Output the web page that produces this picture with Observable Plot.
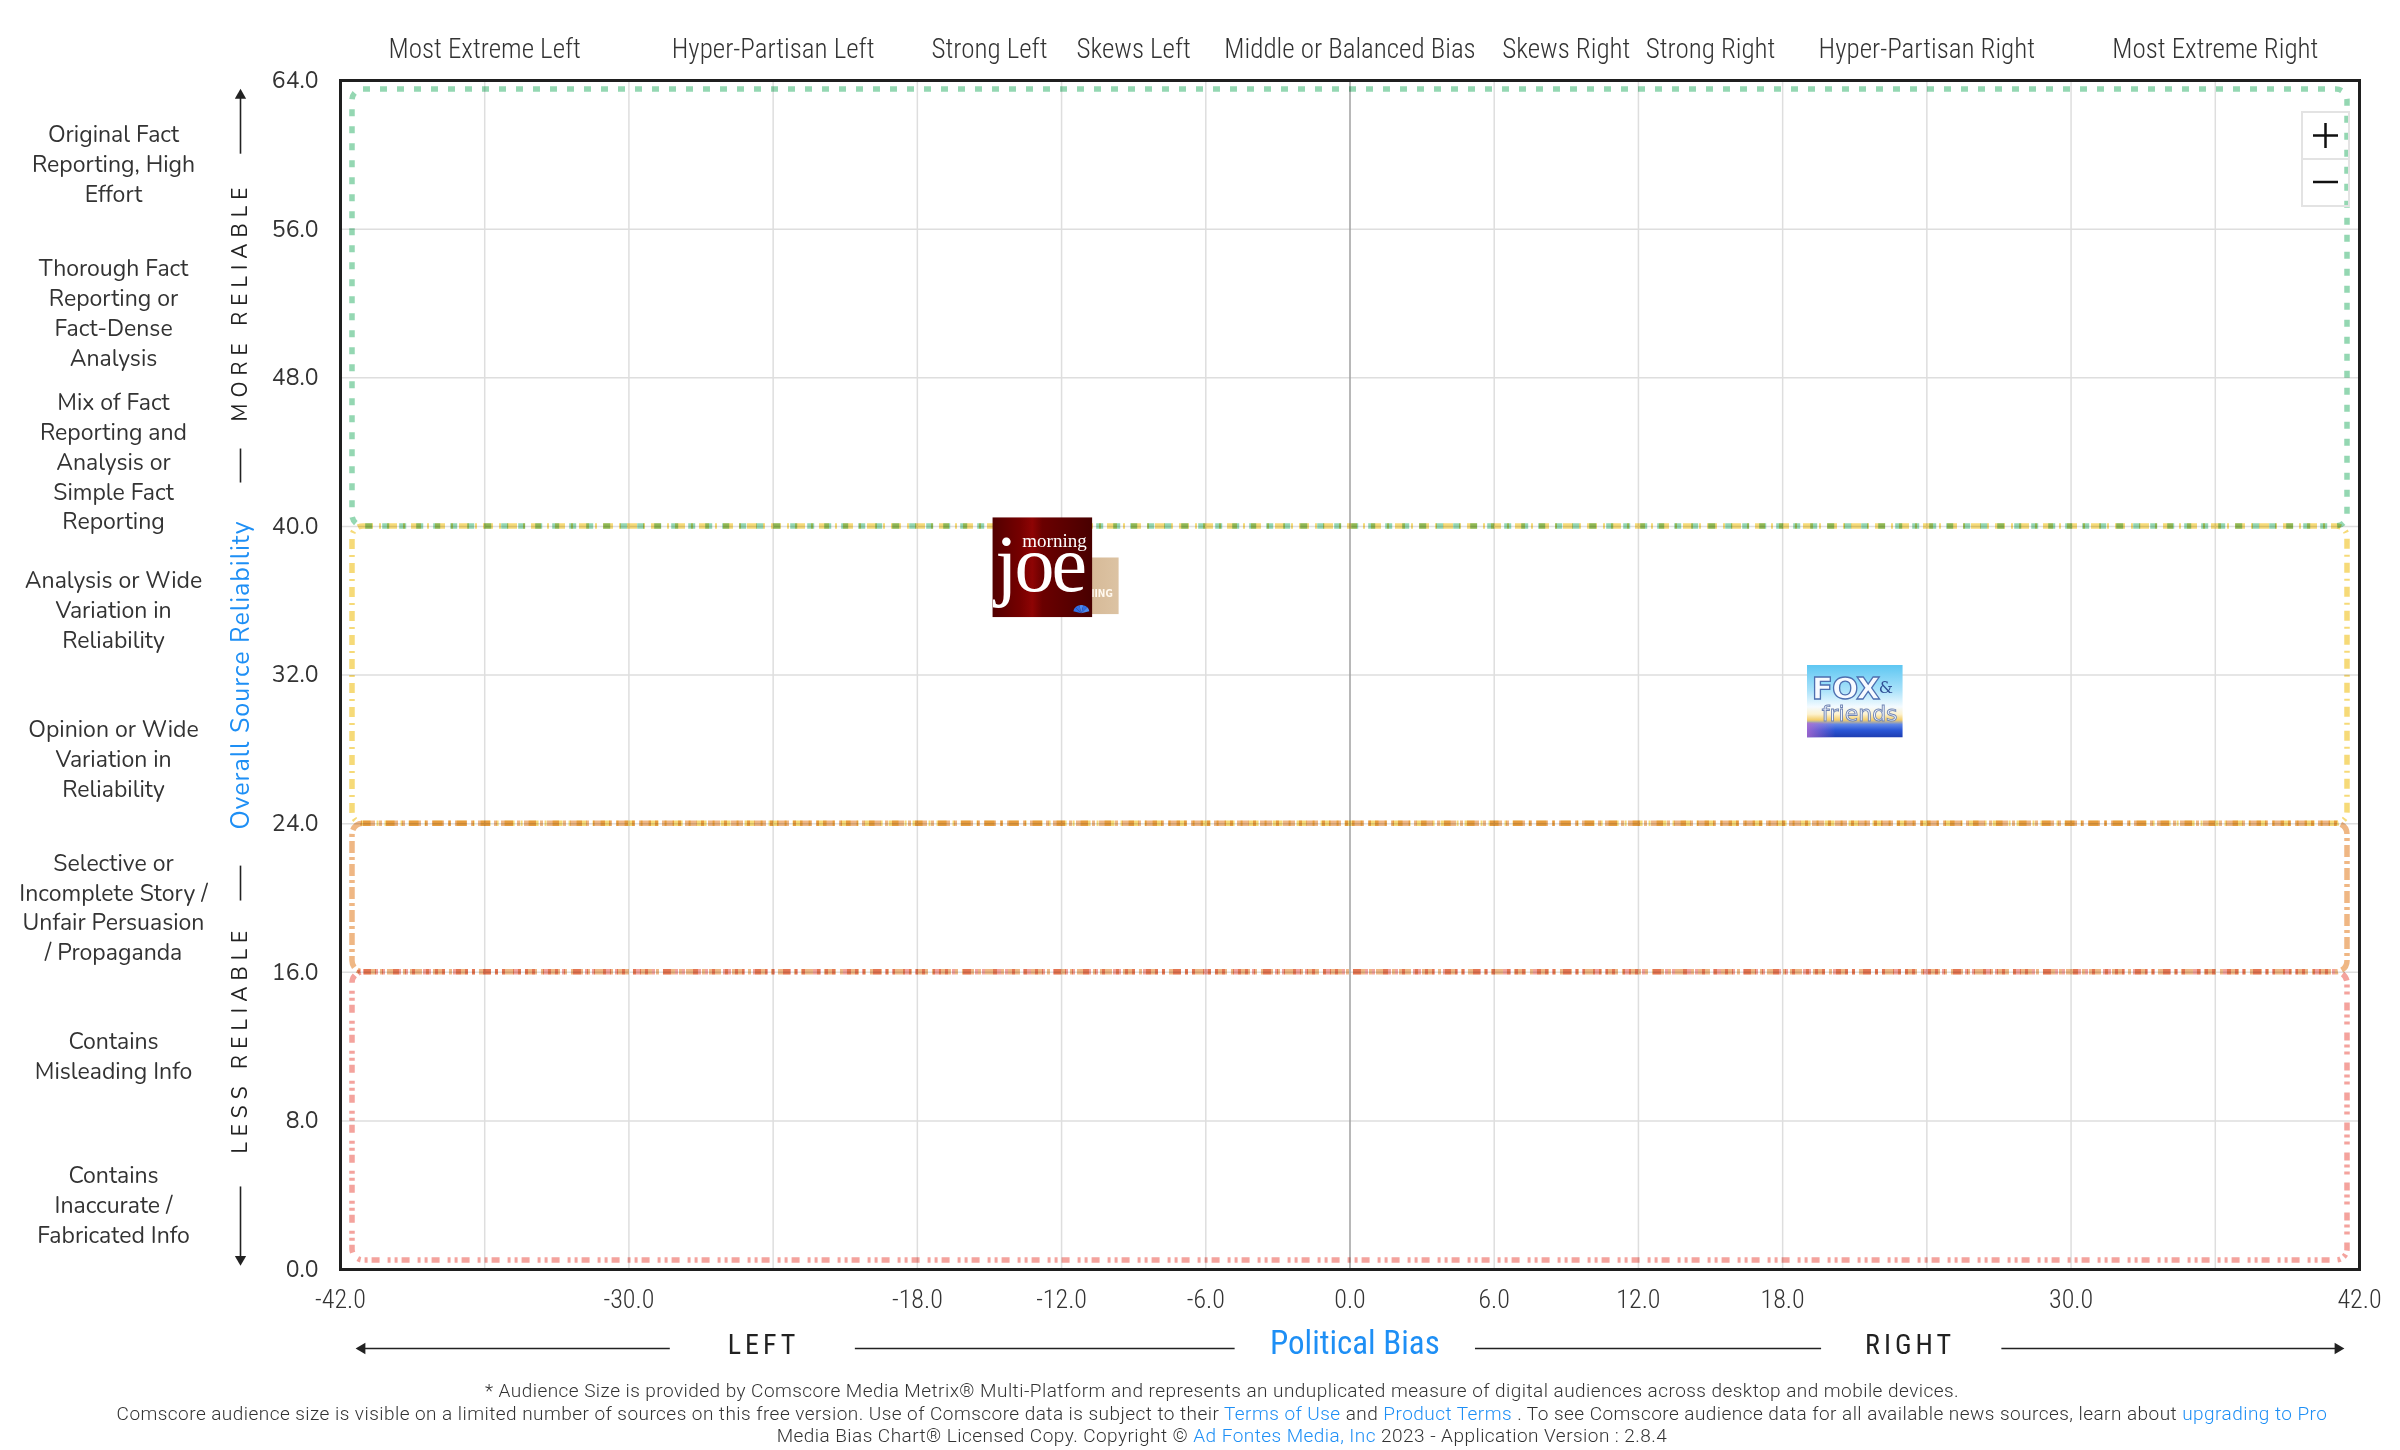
<!DOCTYPE html>
<html>
<head>
<meta charset="utf-8">
<script src="https://cdn.jsdelivr.net/npm/d3@7"></script>
<script src="https://cdn.jsdelivr.net/npm/@observablehq/plot@0.6"></script>
<style>
  html, body { margin: 0; padding: 0; background: #fff; }
  body { width: 2400px; height: 1450px; overflow: hidden; position: relative; }
  #chart { position: absolute; left: 0; top: 0; }
  #chart g[aria-label^="x-axis"] text {
    font-family: "Roboto Condensed", "Liberation Sans Narrow", "DejaVu Sans Condensed", sans-serif;
    font-size: 26px; font-weight: 300; fill: #333;
  }
  #chart g[aria-label^="y-axis"] text {
    font-family: "Nunito", "Lato", sans-serif; font-size: 23px; fill: #333;
  }
  .footer {
    position: absolute; left: 0; top: 1380px; width: 2400px; padding-left: 44px; box-sizing: border-box;
    text-align: center; color: #333;
    font-family: "Roboto", "Roboto Condensed", sans-serif;
    font-size: 19px; font-weight: 300; letter-spacing: 0.45px; line-height: 22.5px;
  }
  .footer .lk { color: #1e8ff5; }
  .zc { position: absolute; left: 2301px; width: 49px; height: 49px; border: 2px solid #e3e3e3; box-sizing: border-box; }
</style>
</head>
<body>
<div id="chart"></div>
<div class="zc" style="top:111px"><svg width="45" height="45"><path d="M10 22.5H35M22.5 10V35" stroke="#111" stroke-width="2.5"/></svg></div>
<div class="zc" style="top:158px;border-top:none"><svg width="45" height="45"><path d="M10 24H35" stroke="#111" stroke-width="2.5"/></svg></div>
<div class="footer">
  <div>* Audience Size is provided by Comscore Media Metrix® Multi-Platform and represents an unduplicated measure of digital audiences across desktop and mobile devices.</div>
  <div>Comscore audience size is visible on a limited number of sources on this free version. Use of Comscore data is subject to their <span class="lk">Terms of Use</span> and <span class="lk">Product Terms</span> . To see Comscore audience data for all available news sources, learn about <span class="lk">upgrading to Pro</span></div>
  <div>Media Bias Chart® Licensed Copy. Copyright © <span class="lk">Ad Fontes Media, Inc</span> 2023 - Application Version : 2.8.4</div>
</div>
<script>
// ---------------- data ----------------
const biasCategories = ["Most Extreme Left", "Hyper-Partisan Left", "Strong Left", "Skews Left",
  "Middle or Balanced Bias", "Skews Right", "Strong Right", "Hyper-Partisan Right", "Most Extreme Right"];
const biasCategoryCenters = [-36, -24, -15, -9, 0, 9, 15, 24, 36];

const reliabilityCategories = [
  "Original Fact\nReporting, High\nEffort",
  "Thorough Fact\nReporting or\nFact-Dense\nAnalysis",
  "Mix of Fact\nReporting and\nAnalysis or\nSimple Fact\nReporting",
  "Analysis or Wide\nVariation in\nReliability",
  "Opinion or Wide\nVariation in\nReliability",
  "Selective or\nIncomplete Story /\nUnfair Persuasion\n/ Propaganda",
  "Contains\nMisleading Info",
  "Contains\nInaccurate /\nFabricated Info"
];
const reliabilityCategoryCenters = [60, 52, 44, 36, 28, 20, 12, 4];

const xTickValues = [-42, -30, -18, -12, -6, 0, 6, 12, 18, 30, 42];
const yTickValues = [0, 8, 16, 24, 32, 40, 48, 56, 64];
const xGridValues = [-36, -30, -24, -18, -12, -6, 6, 12, 18, 24, 30, 36];
const yGridValues = [8, 16, 24, 32, 40, 48, 56];

const zoneTops = [64, 40, 24, 16];
const zoneBottoms = [40, 24, 16, 0];

const sourceNames = ["Morning show (logo partly hidden)", "Morning Joe", "Fox & Friends"];
const sourceBias = [-11.7, -12.8, 21.0];
const sourceReliability = [36.8, 37.8, 30.6];

const reliabilityNotes = ["MORE RELIABLE", "Overall Source Reliability", "LESS RELIABLE"];
const reliabilityNoteY = [52.1, 32.0, 12.4];
const reliabilityNoteSegments = [[60.06, 63.2], [42.36, 44.19], [19.86, 21.74], [4.47, 0.55]];
const reliabilityArrowTips = [63.2, 0.55];

const biasNotes = ["LEFT", "Political Bias", "RIGHT"];
const biasNoteX = [-24.4, 0.2, 23.3];
const biasNoteSegments = [[-28.3, -41.1], [-20.6, -4.8], [5.2, 19.6], [27.1, 41.1]];
const biasArrowTips = [-41.1, 41.1];

// ---------------- styles ----------------
const CONDENSED = '"Roboto Condensed", "Liberation Sans Narrow", "DejaVu Sans Condensed", sans-serif';
const ROUNDED = '"Nunito", "Lato", sans-serif';
const BLUE = "#1e8ff5";
const INK = "#222";

const zoneStyles = [
  {stroke: "#94d7b2", dash: "7,10", insetTop: 9, insetBottom: 0},
  {stroke: "#f6da78", dash: "10,6,2,6", insetTop: 0, insetBottom: 0},
  {stroke: "#efb784", dash: "12,4,3,4", insetTop: 0, insetBottom: 0},
  {stroke: "#f4a39d", dash: "8,4,3,4,3,8", insetTop: 0, insetBottom: 9}
];

function svgUri(s) { return "data:image/svg+xml;charset=utf-8," + encodeURIComponent(s); }

const tanLogo = svgUri(`<svg xmlns="http://www.w3.org/2000/svg" width="100" height="57" viewBox="0 0 100 57">
<defs><linearGradient id="t" x1="0" x2="1"><stop offset="0" stop-color="#c8a27b"/><stop offset="1" stop-color="#dcc3a3"/></linearGradient></defs>
<rect width="100" height="57" fill="url(#t)"/>
<text x="94" y="40" text-anchor="end" font-family="DejaVu Sans Condensed, sans-serif" font-size="10" font-weight="bold" fill="#fff8ee">MORNING</text>
</svg>`);

const joeLogo = svgUri(`<svg xmlns="http://www.w3.org/2000/svg" width="100" height="100" viewBox="0 0 100 100">
<defs><linearGradient id="g" x1="0" x2="1">
<stop offset="0" stop-color="#520000"/><stop offset="0.28" stop-color="#760000"/><stop offset="0.4" stop-color="#8e0404"/>
<stop offset="0.5" stop-color="#6a0000"/><stop offset="0.75" stop-color="#5a0000"/><stop offset="1" stop-color="#480000"/></linearGradient></defs>
<rect width="100" height="100" fill="url(#g)"/>
<text x="30" y="30" font-family="Liberation Serif, DejaVu Serif, serif" font-size="19" fill="#fff">morning</text>
<text x="3" y="74" font-family="Liberation Serif, DejaVu Serif, serif" font-size="80" fill="#fff" letter-spacing="-3">joe</text>
<g transform="translate(89,96)" fill="#2f6fe6">
<path d="M0 0 L-8 -2 A8 8 0 0 1 -6 -6 Z"/><path d="M0 0 L-6 -6 A8 8 0 0 1 -2 -8 Z"/>
<path d="M0 0 L-2 -8 A8 8 0 0 1 2 -8 Z" fill="#4b8bf0"/><path d="M0 0 L2 -8 A8 8 0 0 1 6 -6 Z"/>
<path d="M0 0 L6 -6 A8 8 0 0 1 8 -2 Z" fill="#4b8bf0"/></g>
</svg>`);

const foxLogo = svgUri(`<svg xmlns="http://www.w3.org/2000/svg" width="96" height="73" viewBox="0 0 96 73">
<defs>
<linearGradient id="b" x1="0" y1="0" x2="0" y2="1">
<stop offset="0" stop-color="#5cc6f2"/><stop offset="0.35" stop-color="#a9e2fa"/><stop offset="0.58" stop-color="#f4fbff"/>
<stop offset="0.68" stop-color="#fdf2cf"/><stop offset="0.76" stop-color="#f3cd6a"/><stop offset="0.82" stop-color="#5f86e6"/>
<stop offset="0.9" stop-color="#2a56d6"/><stop offset="1" stop-color="#1c3cb0"/></linearGradient>
<linearGradient id="p" x1="0" x2="1"><stop offset="0" stop-color="#b56bd0" stop-opacity="0.8"/><stop offset="0.3" stop-color="#b56bd0" stop-opacity="0"/></linearGradient>
</defs>
<rect width="96" height="73" fill="url(#b)"/>
<rect y="58" width="96" height="15" fill="url(#p)"/>
<text x="5" y="34" font-family="DejaVu Sans, sans-serif" font-weight="bold" font-size="31" letter-spacing="-1" fill="#f7faff" stroke="#4d6fb0" stroke-width="1.3">FOX</text>
<text x="72" y="28" font-family="DejaVu Serif, serif" font-size="16" fill="#2f4f95">&amp;</text>
<text x="15" y="56" font-family="DejaVu Sans, sans-serif" font-size="22" fill="#f2f7ff" stroke="#6f84b3" stroke-width="0.9">friends</text>
</svg>`);

const logoStyles = [
  {src: tanLogo, width: 100, height: 57},
  {src: joeLogo, width: 100, height: 100},
  {src: foxLogo, width: 96, height: 73}
];

// ---------------- marks ----------------
const zoneMarks = zoneTops.map((top, i) => Plot.rect([i], {
  x1: () => -42, x2: () => 42,
  y1: j => zoneBottoms[j], y2: j => zoneTops[j],
  insetLeft: 12, insetRight: 12,
  insetTop: zoneStyles[i].insetTop, insetBottom: zoneStyles[i].insetBottom,
  rx: 11, fill: "none",
  stroke: zoneStyles[i].stroke, strokeWidth: 5.5,
  strokeDasharray: zoneStyles[i].dash,
  mixBlendMode: "multiply"
}));

const logoMarks = sourceNames.map((name, i) => Plot.image([i], {
  x: j => sourceBias[j], y: j => sourceReliability[j],
  src: () => logoStyles[i].src,
  width: logoStyles[i].width, height: logoStyles[i].height,
  title: j => sourceNames[j]
}));

const chart = Plot.plot({
  width: 2400, height: 1375,
  marginLeft: 340, marginRight: 41, marginTop: 80, marginBottom: 106,
  style: {fontFamily: ROUNDED, fontSize: "21px", color: "#333", background: "#fff", overflow: "visible"},
  x: {domain: [-42, 42], ticks: xTickValues, tickFormat: d => d.toFixed(1), tickSize: 0, tickPadding: 20, label: null},
  y: {domain: [0, 64], ticks: yTickValues, tickFormat: d => d.toFixed(1), tickSize: 0, tickPadding: 22, label: null},
  marks: [
    Plot.ruleX(xGridValues, {stroke: "#dedede", strokeWidth: 1.5}),
    Plot.ruleY(yGridValues, {stroke: "#dedede", strokeWidth: 1.5}),
    Plot.ruleX([0], {stroke: "#a0a0a0", strokeWidth: 1.5}),
    ...zoneMarks,
    Plot.frame({stroke: "#1f1f1f", strokeWidth: 3}),
    ...logoMarks,
    // top bias category labels
    Plot.text(biasCategories, {
      x: (d, i) => biasCategoryCenters[i], frameAnchor: "top", dy: -42,
      text: d => d, fontFamily: CONDENSED, fontSize: 27, fontWeight: 300, fill: "#333"
    }),
    // left reliability category labels
    Plot.text(reliabilityCategories, {
      y: (d, i) => reliabilityCategoryCenters[i], frameAnchor: "left", textAnchor: "middle",
      dx: -227, dy: 8, text: d => d, lineHeight: 1.3, fontSize: 23, fill: "#333"
    }),
    // vertical reliability annotation
    Plot.text(reliabilityNotes, {
      y: (d, i) => reliabilityNoteY[i], frameAnchor: "left", textAnchor: "middle", dx: -100,
      rotate: -90, text: d => d,
      fill: (d, i) => i === 1 ? BLUE : INK,
      fontSize: (d, i) => i === 1 ? 25 : 21
    }),
    Plot.link(reliabilityNoteSegments, {
      x1: () => -42, x2: () => -42, y1: d => d[0], y2: d => d[1], dx: -100,
      stroke: INK, strokeWidth: 1.6
    }),
    Plot.dot(reliabilityArrowTips, {
      x: () => -42, y: d => d, dx: -100, symbol: "triangle", r: 4.2,
      rotate: (d, i) => i === 0 ? 0 : 180, fill: INK, stroke: null
    }),
    // horizontal bias annotation
    Plot.text(biasNotes, {
      x: (d, i) => biasNoteX[i], frameAnchor: "bottom", dy: 84, text: d => d,
      fontFamily: CONDENSED,
      fontSize: (d, i) => i === 1 ? 33 : 28,
      fill: (d, i) => i === 1 ? BLUE : INK
    }),
    Plot.link(biasNoteSegments, {
      x1: d => d[0], x2: d => d[1], y1: () => 0, y2: () => 0, dy: 79,
      stroke: INK, strokeWidth: 1.6
    }),
    Plot.dot(biasArrowTips, {
      x: d => d, y: () => 0, dy: 79, symbol: "triangle", r: 4.2,
      rotate: (d, i) => i === 0 ? -90 : 90, fill: INK, stroke: null
    })
  ]
});

document.getElementById("chart").appendChild(chart);

// letter spacing for the spaced-out annotation words
d3.select(chart).selectAll("text").each(function () {
  const t = this.textContent;
  if (t === "MORE RELIABLE" || t === "LESS RELIABLE") d3.select(this).attr("letter-spacing", "6px");
  else if (t === "LEFT" || t === "RIGHT") d3.select(this).attr("letter-spacing", "4px");
  else if (t === "Overall Source Reliability") d3.select(this).attr("letter-spacing", "1px");
});
</script>
</body>
</html>
